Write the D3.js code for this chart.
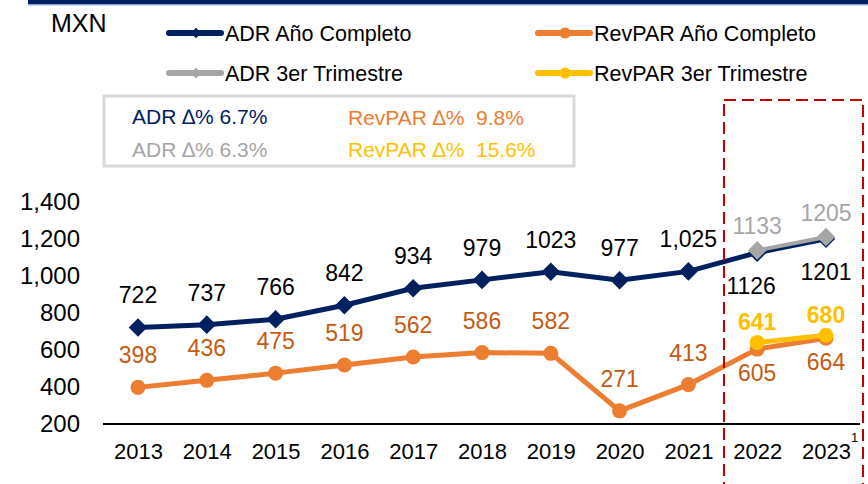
<!DOCTYPE html>
<html>
<head>
<meta charset="utf-8">
<script src="https://cdn.jsdelivr.net/npm/d3@7"></script>
<style>
  body { margin: 0; background: #fff; }
  svg { font-family: "Liberation Sans", Arial, sans-serif; }
</style>
</head>
<body>
<div id="chart"></div>
<script>
// data
const years = ["2013", "2014", "2015", "2016", "2017", "2018", "2019", "2020", "2021", "2022", "2023"];
const adrFull = [722, 737, 766, 842, 934, 979, 1023, 977, 1025, 1126, 1201];
const adrFullLabels = ["722", "737", "766", "842", "934", "979", "1023", "977", "1,025", "1126", "1201"];
const revparFull = [398, 436, 475, 519, 562, 586, 582, 271, 413, 605, 664];
const q3Years = ["2022", "2023"];
const adrQ3 = [1133, 1205];
const revparQ3 = [641, 680];
const yTicks = [200, 400, 600, 800, 1000, 1200, 1400];
const legendItems = ["ADR Año Completo", "RevPAR Año Completo", "ADR 3er Trimestre", "RevPAR 3er Trimestre"];
const statLines = ["ADR \u2206% 6.7%", "RevPAR \u2206%  9.8%", "ADR \u2206% 6.3%", "RevPAR \u2206%  15.6%"];

const navy = "#002060", orange = "#ED7D31", orangeText = "#C55A11",
      grey = "#A6A6A6", yellow = "#FFC000", red = "#C00000";

const width = 868, height = 484;

var svg = d3.select("#chart").append("svg")
  .attr("width", width)
  .attr("height", height);

// top rule
svg.append("rect").attr("x", 28).attr("y", 0).attr("width", 840).attr("height", 4).attr("fill", navy);
svg.append("rect").attr("x", 28).attr("y", 4).attr("width", 840).attr("height", 1.5).attr("fill", "#8EA9DB");

// scales
var x = d3.scalePoint().domain(years).range([138, 826]);
var y = d3.scaleLinear().domain([200, 1400]).range([424, 202]);

// y axis labels only
var yAxis = svg.append("g")
  .attr("transform", "translate(80,0)")
  .call(d3.axisLeft(y).tickValues(yTicks).tickFormat(d3.format(",")).tickSize(0).tickPadding(0));
yAxis.select(".domain").remove();
yAxis.selectAll("text")
  .attr("font-size", 24)
  .attr("fill", "#000")
  .attr("font-family", "Liberation Sans, Arial, sans-serif");

// x axis
var xAxis = svg.append("g")
  .attr("transform", "translate(0," + y(200) + ")")
  .call(d3.axisBottom(x).tickSize(0).tickPadding(19));
xAxis.select(".domain").attr("d", "M103,0H860").attr("stroke", "#000").attr("stroke-width", 2);
xAxis.selectAll("text")
  .attr("font-size", 22)
  .attr("fill", "#000")
  .attr("font-family", "Liberation Sans, Arial, sans-serif");

// footnote marker
svg.append("text").attr("x", x("2023") + 25).attr("y", 442).attr("font-size", 13).text("1");

var line = d3.line().x(function (d) { return x(d[0]); }).y(function (d) { return y(d[1]); });
var diamond = d3.symbol().type(d3.symbolDiamond2).size(220);

function zipYears(ys, vs) {
  return vs.map(function (v, i) { return [ys[i], v]; });
}

// full-year series
var adrPts = zipYears(years, adrFull);
var revPts = zipYears(years, revparFull);

svg.append("path").datum(adrPts).attr("d", line)
  .attr("fill", "none").attr("stroke", navy).attr("stroke-width", 5);
svg.selectAll(".adrDot").data(adrPts).enter().append("path")
  .attr("d", diamond)
  .attr("transform", function (d) { return "translate(" + x(d[0]) + "," + y(d[1]) + ")"; })
  .attr("fill", navy);

svg.append("path").datum(revPts).attr("d", line)
  .attr("fill", "none").attr("stroke", orange).attr("stroke-width", 5);
svg.selectAll(".revDot").data(revPts).enter().append("circle")
  .attr("cx", function (d) { return x(d[0]); })
  .attr("cy", function (d) { return y(d[1]); })
  .attr("r", 7.5)
  .attr("fill", orange);

// 3rd quarter series
var adrQ3Pts = zipYears(q3Years, adrQ3);
var revQ3Pts = zipYears(q3Years, revparQ3);

svg.append("path").datum(adrQ3Pts).attr("d", line)
  .attr("fill", "none").attr("stroke", grey).attr("stroke-width", 4)
  .attr("transform", "translate(0,-1)");
svg.selectAll(".adrQ3Dot").data(adrQ3Pts).enter().append("path")
  .attr("d", diamond)
  .attr("transform", function (d) { return "translate(" + x(d[0]) + "," + (y(d[1]) - 1) + ")"; })
  .attr("fill", grey);

svg.append("path").datum(revQ3Pts).attr("d", line)
  .attr("fill", "none").attr("stroke", yellow).attr("stroke-width", 5);
svg.selectAll(".revQ3Dot").data(revQ3Pts).enter().append("circle")
  .attr("cx", function (d) { return x(d[0]); })
  .attr("cy", function (d) { return y(d[1]); })
  .attr("r", 7.5)
  .attr("fill", yellow);

// value labels
var labels = svg.append("g").attr("font-size", 23).attr("text-anchor", "middle");

adrPts.forEach(function (d, i) {
  var below = i >= 9;
  labels.append("text")
    .attr("x", x(d[0]) - (i === 9 ? 6 : 0))
    .attr("y", y(d[1]) + (below ? 41 : -24))
    .attr("fill", "#000")
    .text(adrFullLabels[i]);
});
revPts.forEach(function (d, i) {
  var below = i >= 9;
  labels.append("text")
    .attr("x", x(d[0]))
    .attr("y", y(d[1]) + (below ? 32 : -24))
    .attr("fill", orangeText)
    .text(d[1]);
});
adrQ3Pts.forEach(function (d) {
  labels.append("text")
    .attr("x", x(d[0]))
    .attr("y", y(d[1]) - 17)
    .attr("fill", grey)
    .text(d[1]);
});
revQ3Pts.forEach(function (d) {
  labels.append("text")
    .attr("x", x(d[0]))
    .attr("y", y(d[1]) - 12)
    .attr("fill", yellow)
    .attr("font-weight", "bold")
    .text(d[1]);
});

// red dashed highlight box
svg.append("rect")
  .attr("x", 724).attr("y", 100).attr("width", 139).attr("height", 400)
  .attr("fill", "none").attr("stroke", red).attr("stroke-width", 2)
  .attr("stroke-dasharray", "12,6");

// unit
svg.append("text").attr("x", 51).attr("y", 32).attr("font-size", 25).text("MXN");

// legend
var legendColors = [navy, orange, grey, yellow];
var legendPos = [[167, 33], [536, 33], [167, 73], [536, 73]];
legendItems.forEach(function (name, i) {
  var g = svg.append("g").attr("transform", "translate(" + legendPos[i][0] + "," + legendPos[i][1] + ")");
  g.append("line").attr("x1", 2).attr("x2", 54).attr("y1", 0).attr("y2", 0)
    .attr("stroke", legendColors[i]).attr("stroke-width", 6).attr("stroke-linecap", "round");
  if (i % 2 === 0) {
    g.append("path").attr("d", d3.symbol().type(d3.symbolDiamond2).size(70))
      .attr("transform", "translate(29,0)").attr("fill", legendColors[i]);
  } else {
    g.append("circle").attr("cx", 29).attr("r", 5.5).attr("fill", legendColors[i]);
  }
  g.append("text").attr("x", 58).attr("y", 8).attr("font-size", 21.5).attr("fill", "#000").text(name);
});

// stats box
svg.append("rect").attr("x", 104).attr("y", 96).attr("width", 470).attr("height", 70)
  .attr("fill", "#fff").attr("stroke", "#D9D9D9").attr("stroke-width", 3);
var statColors = [navy, orange, grey, yellow];
var statPos = [[132, 124], [348, 125], [132, 157], [348, 157]];
statLines.forEach(function (t, i) {
  svg.append("text").attr("x", statPos[i][0]).attr("y", statPos[i][1])
    .attr("font-size", 21).attr("fill", statColors[i])
    .attr("xml:space", "preserve")
    .text(t);
});
</script>
</body>
</html>
